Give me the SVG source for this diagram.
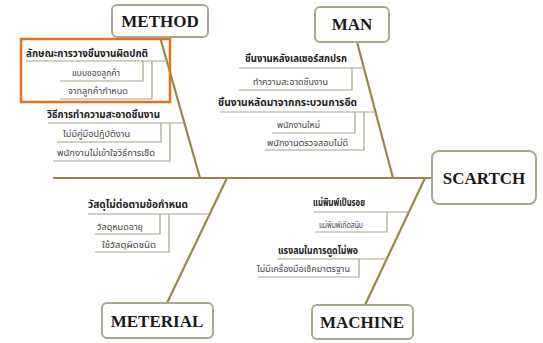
<svg xmlns="http://www.w3.org/2000/svg" width="543" height="343" viewBox="0 0 543 343">
<style>
.box{fill:#fff;stroke:#a7aa8c;stroke-width:2}
.lbl{font-family:"Liberation Serif",serif;font-weight:bold;font-size:17px;fill:#1a1a1a;text-anchor:middle}
.bone{stroke:#9a8649;stroke-width:2.2;fill:none}
.br{stroke:#a9a488;stroke-width:1.2;fill:none}
.c{font-family:"Noto Sans Thai","Noto Serif Thai","Noto Sans",sans-serif;font-weight:bold;font-size:10px;fill:#222}
.s{font-family:"Noto Sans Thai","Noto Serif Thai","Noto Sans",sans-serif;font-size:8.5px;fill:#444}
</style>
<rect width="543" height="343" fill="#fff"/>
<g id="connectors">
<line class="bone" x1="53" y1="178" x2="433" y2="178"/>
<line class="bone" x1="160" y1="37" x2="200" y2="178"/>
<line class="bone" x1="357" y1="42" x2="393" y2="178"/>
<line class="bone" x1="227" y1="178" x2="167" y2="303"/>
<line class="bone" x1="425" y1="178" x2="365" y2="305"/>
</g>
<g id="method-causes">
<path class="br" d="M26 61H167M143 61V81H60M152 61V99H60"/>
<text class="c" x="26" y="57" textLength="122" lengthAdjust="spacingAndGlyphs">ลักษณะการวางชิ้นงานผิดปกติ</text>
<text class="s" x="72" y="76" textLength="48" lengthAdjust="spacingAndGlyphs">แบบของลูกค้า</text>
<text class="s" x="68" y="94" textLength="60" lengthAdjust="spacingAndGlyphs">จากลูกค้ากำหนด</text>
<path class="br" d="M48 123H184M161 123V142H57M170 123V161H53"/>
<text class="c" x="47" y="118" textLength="113" lengthAdjust="spacingAndGlyphs">วิธีการทำความสะอาดชิ้นงาน</text>
<text class="s" x="63" y="137" textLength="67" lengthAdjust="spacingAndGlyphs">ไม่มีคู่มือปฏิบัติงาน</text>
<text class="s" x="57" y="156" textLength="98" lengthAdjust="spacingAndGlyphs">พนักงานไม่เข้าใจวิธีการเช็ด</text>
<rect x="21" y="39" width="149" height="63" fill="none" stroke="#e8701f" stroke-width="2.5"/>
</g>
<g id="man-causes">
<path class="br" d="M239 68H364M352 68V90H239"/>
<text class="c" x="245" y="62" textLength="102" lengthAdjust="spacingAndGlyphs">ชิ้นงานหลังเลเซอร์สกปรก</text>
<text class="s" x="253" y="85" textLength="75" lengthAdjust="spacingAndGlyphs">ทำความสะอาดชิ้นงาน</text>
<path class="br" d="M220 112H375M355 112V133H272M364 112V150H265"/>
<text class="c" x="218" y="106" textLength="139" lengthAdjust="spacingAndGlyphs">ชิ้นงานหลัดมาจากกระบวนการอีด</text>
<text class="s" x="277" y="128" textLength="43" lengthAdjust="spacingAndGlyphs">พนักงานใหม่</text>
<text class="s" x="267" y="146" textLength="81" lengthAdjust="spacingAndGlyphs">พนักงานตรวจสอบไม่ดี</text>
</g>
<g id="meterial-causes">
<path class="br" d="M88 214H209M160 214V234H95M169 214V252H95"/>
<text class="c" x="88" y="208" textLength="100" lengthAdjust="spacingAndGlyphs">วัสดุไม่ต่อตามข้อกำหนด</text>
<text class="s" x="97" y="230" textLength="46" lengthAdjust="spacingAndGlyphs">วัสดุหมดอายุ</text>
<text class="s" x="102" y="248" textLength="54" lengthAdjust="spacingAndGlyphs">ใช้วัสดุผิดชนิด</text>
</g>
<g id="machine-causes">
<path class="br" d="M314 212H409M387 212V232H315"/>
<text class="c" x="313" y="206" font-size="9" textLength="52" lengthAdjust="spacingAndGlyphs">แม่พิมพ์เป็นรอย</text>
<text class="s" x="319" y="228" font-size="8" textLength="44" lengthAdjust="spacingAndGlyphs">แม่พิมพ์เกิดสนิม</text>
<path class="br" d="M277 259H387M359 259V277H258"/>
<text class="c" x="278" y="254" textLength="80" lengthAdjust="spacingAndGlyphs">แรงลมในการดูดไม่พอ</text>
<text class="s" x="257" y="272" textLength="93" lengthAdjust="spacingAndGlyphs">ไม่มีเครื่องมือเช็คมาตรฐาน</text>
</g>
<g id="method"><rect class="box" x="112" y="5" width="96" height="32" rx="5"/><text class="lbl" x="160" y="27">METHOD</text></g>
<g id="man"><rect class="box" x="315" y="7" width="74" height="35" rx="5"/><text class="lbl" x="352" y="30">MAN</text></g>
<g id="scartch"><rect class="box" x="432" y="151" width="104" height="53" rx="7"/><text class="lbl" x="484" y="184">SCARTCH</text></g>
<g id="meterial"><rect class="box" x="102" y="303" width="111" height="35" rx="5"/><text class="lbl" x="157" y="327">METERIAL</text></g>
<g id="machine"><rect class="box" x="312" y="305" width="101" height="34" rx="5"/><text class="lbl" x="362" y="328">MACHINE</text></g>
</svg>
